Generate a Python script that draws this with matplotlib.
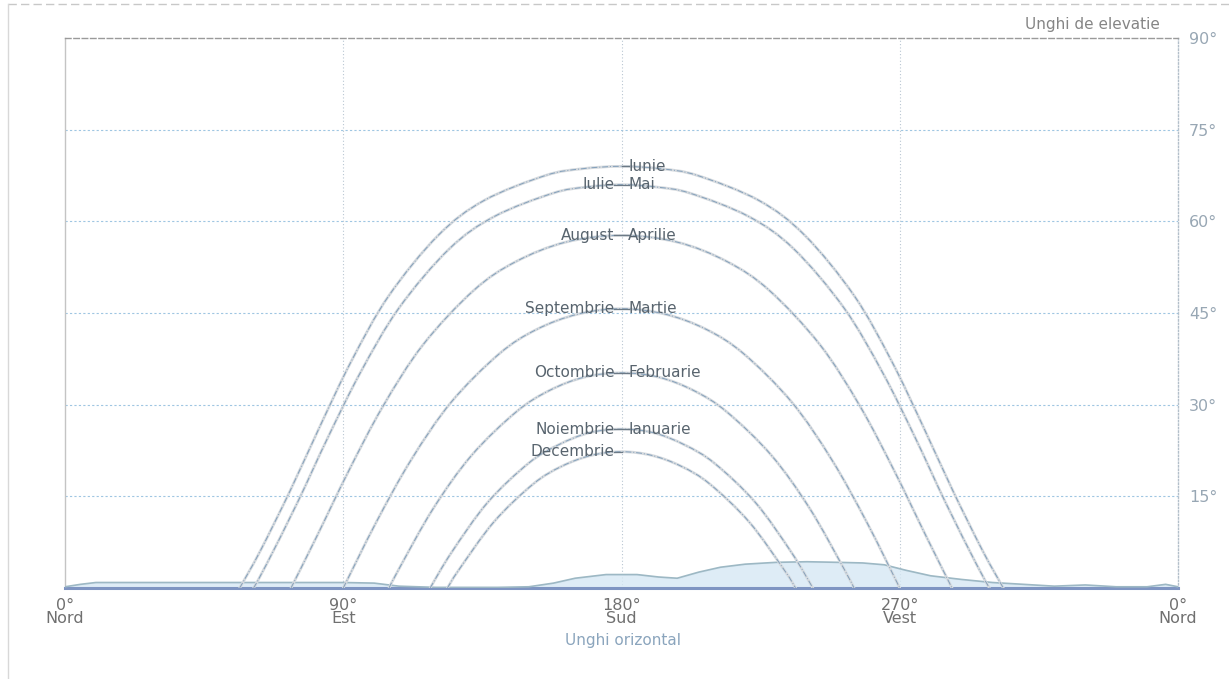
import matplotlib
matplotlib.use("Agg")
import numpy as np
import matplotlib.pyplot as plt
from matplotlib.path import Path
from matplotlib.patches import PathPatch

# sun paths: azimuth (deg from north) / elevation (deg)
iunie_az = [56.5, 63.2, 72.9, 82.5, 92.7, 104.7, 120.7, 135.5, 155.4, 167.2, 180,
            192.8, 204.6, 224.5, 239.3, 255.3, 267.3, 277.5, 287.1, 296.8, 303.5]
iunie_el = [0, 6.1, 16.0, 26.5, 37.2, 47.8, 57.7, 63.4, 67.5, 68.6, 69.0,
            68.6, 67.5, 63.4, 57.7, 47.8, 37.2, 26.5, 16.0, 6.1, 0]

iulie_az = [61.0, 65.2, 75.2, 85.0, 95.6, 108.0, 124.3, 138.9, 157.8, 168.5, 180,
            191.5, 202.2, 221.1, 235.7, 252.0, 264.4, 275.0, 284.8, 294.8, 299.0]
iulie_el = [0, 3.9, 14.0, 24.6, 35.3, 45.8, 55.5, 60.8, 64.6, 65.6, 66.0,
            65.6, 64.6, 60.8, 55.5, 45.8, 35.3, 24.6, 14.0, 3.9, 0]

august_az = [73.1, 81.4, 91.7, 102.8, 115.8, 132.2, 145.8, 162.0, 180,
             198.0, 214.2, 227.8, 244.2, 257.2, 268.3, 278.6, 286.9]
august_el = [0, 8.4, 19.1, 29.7, 39.8, 48.7, 53.4, 56.6, 57.7,
             56.6, 53.4, 48.7, 39.8, 29.7, 19.1, 8.4, 0]

sept_az = [90.0, 100.6, 112.0, 124.9, 140.4, 152.5, 165.8, 180,
           194.2, 207.5, 219.6, 235.1, 248.0, 259.4, 270.0]
sept_el = [0, 10.7, 21.0, 30.4, 38.3, 42.3, 44.8, 45.7,
           44.8, 42.3, 38.3, 30.4, 21.0, 10.7, 0]

oct_az = [104.8, 108.0, 119.1, 131.5, 145.9, 156.6, 168.0, 180,
          192.0, 203.4, 214.1, 228.5, 240.9, 252.0, 255.2]
oct_el = [0, 3.1, 13.0, 21.7, 28.8, 32.3, 34.5, 35.2,
          34.5, 32.3, 28.8, 21.7, 13.0, 3.1, 0]

nov_az = [118.1, 125.0, 136.7, 149.9, 159.5, 169.6, 180,
          190.4, 200.5, 210.1, 223.3, 235.0, 241.9]
nov_el = [0, 5.8, 14.0, 20.4, 23.4, 25.4, 26.0,
          25.4, 23.4, 20.4, 14.0, 5.8, 0]

dec_az = [123.7, 127.3, 138.7, 151.4, 160.6, 170.2, 180,
          189.8, 199.4, 208.6, 221.3, 232.7, 236.3]
dec_el = [0, 2.9, 10.8, 17.0, 19.9, 21.7, 22.3,
          21.7, 19.9, 17.0, 10.8, 2.9, 0]

# month labels at noon (left side / right side)
labels_left = ["", "Iulie", "August", "Septembrie", "Octombrie", "Noiembrie", "Decembrie"]
labels_right = ["Iunie", "Mai", "Aprilie", "Martie", "Februarie", "Ianuarie", ""]

# horizon profile
hz_az = [0, 5, 10, 30, 60, 90, 100, 108, 120, 140, 150, 158, 165, 175, 185, 192,
         198, 205, 212, 220, 230, 240, 250, 258, 265, 272, 280, 290, 300, 310,
         320, 330, 340, 350, 356, 360]
hz_el = [0.2, 0.6, 0.9, 0.9, 0.9, 0.9, 0.8, 0.3, 0.1, 0.1, 0.2, 0.8, 1.6, 2.2,
         2.2, 1.8, 1.6, 2.6, 3.4, 3.9, 4.2, 4.3, 4.2, 4.1, 3.8, 2.9, 2.0, 1.4,
         0.9, 0.6, 0.3, 0.5, 0.2, 0.2, 0.6, 0.2]

x_ticks = [0, 90, 180, 270, 360]
x_labels = ["0°\nNord", "90°\nEst", "180°\nSud", "270°\nVest", "0°\nNord"]
y_ticks = [15, 30, 45, 60, 75, 90]

paths = [(iunie_az, iunie_el), (iulie_az, iulie_el), (august_az, august_el),
         (sept_az, sept_el), (oct_az, oct_el), (nov_az, nov_el), (dec_az, dec_el)]


def smooth_path(xs, ys):
    """ catmull-rom curve through the points, drawn as bezier segments """
    pts = np.column_stack([xs, ys]).astype(float)
    n = len(pts)
    verts = [pts[0]]
    codes = [Path.MOVETO]
    for i in range(n - 1):
        p0 = pts[max(i - 1, 0)]
        p1 = pts[i]
        p2 = pts[i + 1]
        p3 = pts[min(i + 2, n - 1)]
        verts += [p1 + (p2 - p0) / 6, p2 - (p3 - p1) / 6, p2]
        codes += [Path.CURVE4] * 3
    return Path(verts, codes)


fig = plt.figure(figsize=(12.29, 6.79), dpi=100)
ax = fig.add_axes([65 / 1229, 1 - 588 / 679, 1113 / 1229, 550 / 679])
ax.set_xlim(0, 360)
ax.set_ylim(0, 90)

# grid
for y in y_ticks[:-1]:
    ax.axhline(y, color="#9fc6e2", lw=0.8, ls=(0, (2, 2)), zorder=1)
for x in x_ticks[1:-1]:
    ax.axvline(x, color="#b9c6d2", lw=0.8, ls=(0, (1, 2)), zorder=1)

# horizon
ax.fill_between(hz_az, 0, hz_el, color="#d6e8f4", alpha=0.8, zorder=2)
ax.plot(hz_az, hz_el, color="#9db8c4", lw=1.2, zorder=3)

# sun paths
for az, el in paths:
    p = smooth_path(az, el)
    ax.add_patch(PathPatch(p, fill=False, edgecolor="#d6dade", lw=2.0,
                           capstyle="round", zorder=4))
    ax.add_patch(PathPatch(p, fill=False, edgecolor="#83a0bb", lw=0.7,
                           ls=(0, (6, 2, 1, 2)), zorder=5))

# month labels
for (az, el), left, right in zip(paths, labels_left, labels_right):
    top = max(el)
    if left:
        ax.text(177.8, top, left, ha="right", va="center", fontsize=11,
                color="#58646e", zorder=6)
    if right:
        ax.text(182.2, top, right, ha="left", va="center", fontsize=11,
                color="#58646e", zorder=6)
    ax.plot([177.6 if left else 180, 182.4 if right else 180], [top, top],
            color="#6c7a86", lw=0.9, zorder=6)

ax.set_xticks(x_ticks)
ax.set_xticklabels(x_labels, linespacing=0.85)
ax.tick_params(axis="x", length=0, pad=7, labelsize=11.5, labelcolor="#707070")
ax.yaxis.tick_right()
ax.set_yticks(y_ticks)
ax.set_yticklabels([f"{v}°" for v in y_ticks])
ax.tick_params(axis="y", length=0, pad=8, labelsize=11.5, labelcolor="#98a7b4")

for side, col, ls, lw in [("left", "#c4c4c4", "-", 1.0),
                          ("top", "#9a9a9a", (0, (4, 2)), 1.0),
                          ("right", "#b3bfca", (0, (1, 1.5)), 1.0),
                          ("bottom", "#7f95c2", "-", 2.2)]:
    ax.spines[side].set_color(col)
    ax.spines[side].set_linestyle(ls)
    ax.spines[side].set_linewidth(lw)

ax.text(0.984, 1.024, "Unghi de elevatie", transform=ax.transAxes,
        ha="right", va="center", fontsize=11, color="#858585")
fig.text(623 / 1229, 1 - 641 / 679, "Unghi orizontal", ha="center", va="center",
         fontsize=11, color="#8ba5bd")

# faint outer frame of the scanned chart
fig.add_artist(plt.Line2D([8 / 1229, 1], [1 - 4 / 679, 1 - 4 / 679],
                          color="#c8c8c8", lw=1, ls=(0, (6, 3))))
fig.add_artist(plt.Line2D([8 / 1229, 8 / 1229], [0, 1 - 4 / 679],
                          color="#d8d8d8", lw=1))

fig.savefig("out.png", dpi=100)
